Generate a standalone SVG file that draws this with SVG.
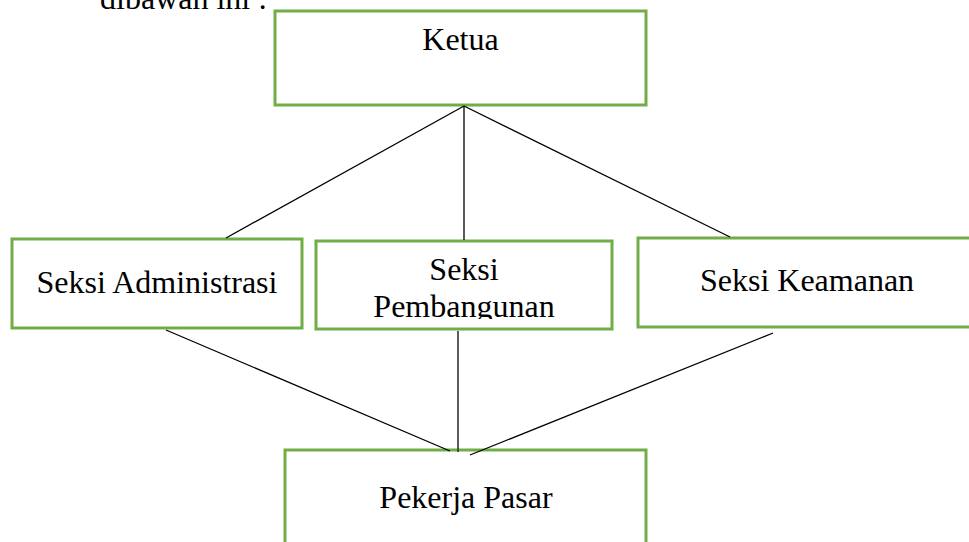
<svg xmlns="http://www.w3.org/2000/svg" width="969" height="542" viewBox="0 0 969 542">
<style>
.box{fill:#ffffff;stroke:#70AD47;stroke-width:3}
.lbl{font-family:"Liberation Serif","Times New Roman",serif;font-size:32px;fill:#000000}
.ln{stroke:#000000;stroke-width:1.3;fill:none}
.vl{stroke:#333333;stroke-width:1.6;fill:none}
</style>
<defs>
<clipPath id="pembClip"><rect x="316" y="241" width="296" height="78"/></clipPath>
</defs>
<rect width="969" height="542" fill="#ffffff"/>
<text class="lbl" x="100" y="9">dibawah ini :</text>
<g id="ketua">
<rect class="box" x="275" y="11" width="371" height="94"/>
<text class="lbl" x="460.5" y="50" text-anchor="middle">Ketua</text>
</g>
<g id="administrasi">
<rect class="box" x="12" y="239" width="290" height="89"/>
<text class="lbl" x="157" y="293" text-anchor="middle">Seksi Administrasi</text>
</g>
<g id="pembangunan">
<rect class="box" x="316" y="241" width="296" height="88"/>
<g clip-path="url(#pembClip)">
<text class="lbl" x="464" y="280" text-anchor="middle">Seksi</text>
<text class="lbl" x="464" y="317" text-anchor="middle">Pembangunan</text>
</g>
</g>
<g id="keamanan">
<rect class="box" x="638" y="238" width="340" height="89"/>
<text class="lbl" x="807" y="291" text-anchor="middle">Seksi Keamanan</text>
</g>
<g id="pekerja">
<rect class="box" x="285" y="450" width="361" height="100"/>
<text class="lbl" x="466" y="508" text-anchor="middle">Pekerja Pasar</text>
</g>
<g id="connectors">
<line class="ln" x1="464" y1="106" x2="226" y2="238"/>
<line class="ln" x1="464" y1="106" x2="464" y2="240"/>
<line class="ln" x1="464" y1="106" x2="730" y2="237"/>
<line class="ln" x1="166" y1="330" x2="450" y2="451"/>
<line class="vl" x1="458" y1="331" x2="458" y2="452"/>
<line class="ln" x1="773" y1="333" x2="470" y2="455"/>
</g>
</svg>
